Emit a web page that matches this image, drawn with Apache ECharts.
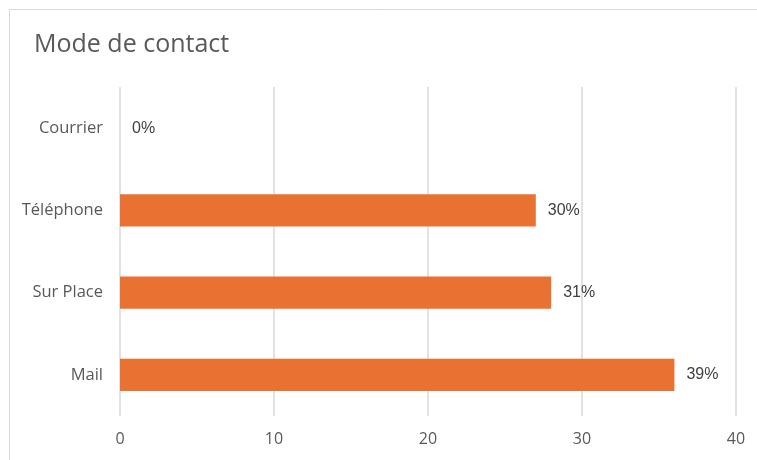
<!DOCTYPE html>
<html>
<head>
<meta charset="utf-8">
<script src="https://cdn.jsdelivr.net/npm/echarts@6/dist/echarts.min.js"></script>
<style>
html,body{margin:0;padding:0;background:#fff;}
#c{width:757px;height:460px;}
</style>
</head>
<body>
<div id="c"></div>
<script>
const categories = ['Mail', 'Sur Place', 'Téléphone', 'Courrier'];
const counts = [36, 28, 27, 0];
const percentLabels = ['39%', '31%', '30%', '0%'];
const xTicks = [0, 10, 20, 30, 40];

const chart = echarts.init(document.getElementById('c'), null, {renderer: 'canvas'});
const font = '"Open Sans", "Noto Sans", sans-serif';
const labelFont = '"Liberation Sans", Arial, sans-serif';
chart.setOption({
  animation: false,
  backgroundColor: '#fff',
  graphic: [{
    type: 'rect',
    shape: {x: 9.5, y: 9.5, width: 800, height: 500},
    style: {fill: 'none', stroke: '#d9d9d9', lineWidth: 1},
    silent: true
  }],
  title: {
    text: 'Mode de contact',
    left: 29,
    top: 27,
    textStyle: {fontFamily: font, fontSize: 25, fontWeight: 'normal', color: '#595959'}
  },
  grid: {left: 120, right: 21, top: 87, bottom: 44, containLabel: false},
  xAxis: {
    type: 'value',
    min: xTicks[0],
    max: xTicks[xTicks.length - 1],
    interval: 10,
    axisLine: {show: false},
    axisTick: {show: false},
    splitLine: {show: true, lineStyle: {color: '#d9d9d9', width: 1.5}},
    axisLabel: {margin: 15, fontFamily: font, fontSize: 16, color: '#595959'}
  },
  yAxis: {
    type: 'category',
    data: categories,
    axisLine: {show: false},
    axisTick: {show: false},
    axisLabel: {margin: 17, fontFamily: font, fontSize: 16.5, color: '#595959'}
  },
  series: [{
    type: 'bar',
    data: counts,
    barWidth: '39%',
    itemStyle: {color: '#e97132'},
    label: {
      show: true,
      position: 'right',
      distance: 12,
      fontFamily: labelFont,
      fontSize: 16,
      color: '#404040',
      formatter: p => percentLabels[p.dataIndex]
    }
  }]
});
</script>
</body>
</html>
